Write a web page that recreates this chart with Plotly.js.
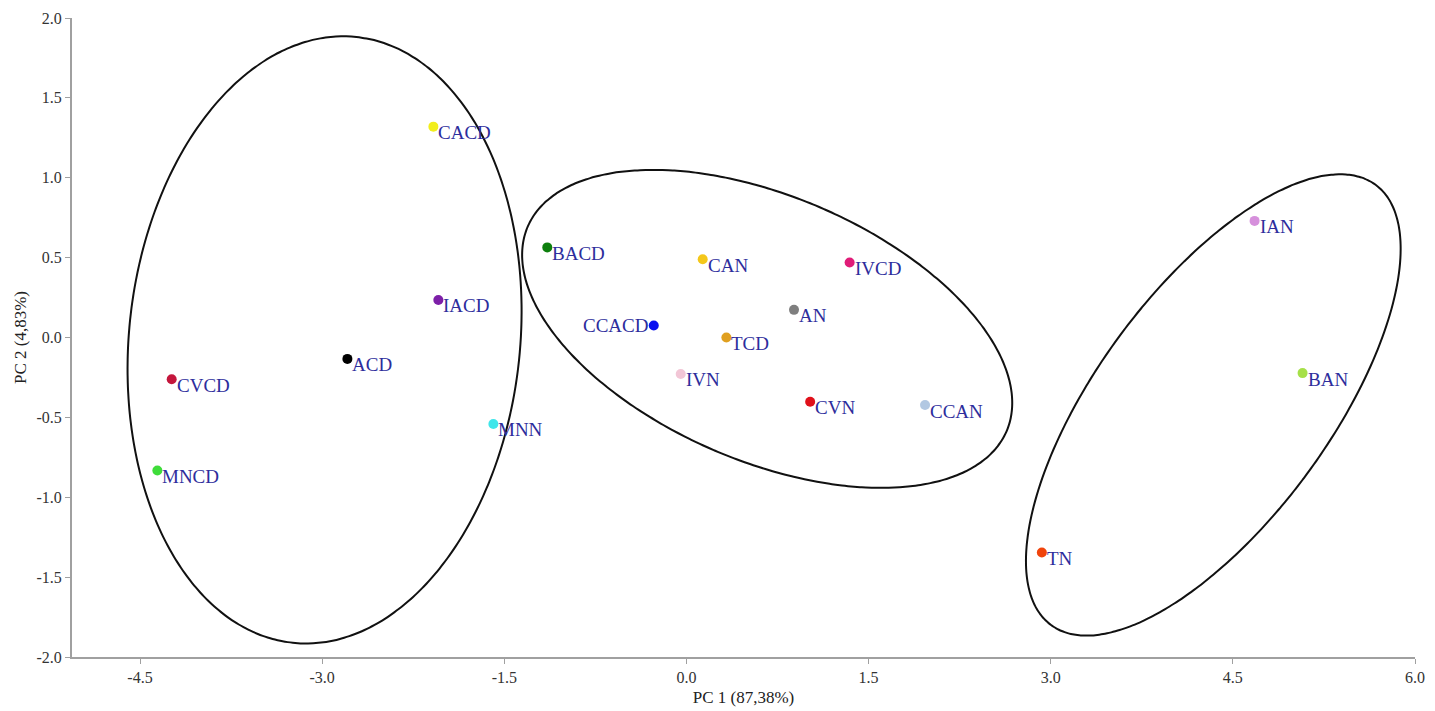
<!DOCTYPE html>
<html>
<head>
<meta charset="utf-8">
<script src="https://cdn.plot.ly/plotly-3.0.1.min.js"></script>
<style>
  html, body { margin: 0; padding: 0; background: #ffffff; }
  #chart { width: 1435px; height: 711px; }
</style>
</head>
<body>
<div id="chart"></div>
<script>
// ---- Data ----
var sampleNames = ["CACD", "IACD", "ACD", "CVCD", "MNCD", "MNN",
                   "BACD", "CCACD", "CAN", "IVCD", "AN", "TCD", "IVN", "CVN", "CCAN",
                   "IAN", "BAN", "TN"];
var pc1Values = [-2.084, -2.043, -2.792, -4.239, -4.357, -1.590,
                 -1.146, -0.269, 0.134, 1.344, 0.886, 0.329, -0.047, 1.019, 1.965,
                 4.679, 5.074, 2.927];
var pc2Values = [1.320, 0.235, -0.134, -0.261, -0.833, -0.541,
                 0.564, 0.075, 0.490, 0.469, 0.173, 0.000, -0.228, -0.402, -0.423,
                 0.730, -0.223, -1.346];
var pointColors = ["#f2ee1c", "#7d1fa8", "#000000", "#c4163c", "#3fdc3a", "#3fe6ea",
                   "#0d7f0d", "#0a10f0", "#f4c71a", "#e01c78", "#7f7f7f", "#e0a020", "#f2c6d6", "#e0101a", "#b2c8e2",
                   "#d690dc", "#a6e048", "#f0440c"];

// Group ellipses: centre (PC1, PC2), semi-axes (in PC1 units), rotation (deg)
var ellipseCx = [-2.980, 0.665, 4.339];
var ellipseCy = [-0.015, 0.054, -0.422];
var ellipseA = [2.508, 2.144, 2.252];
var ellipseB = [1.610, 1.091, 0.958];
var ellipseAngle = [84.0, -23.1, 53.6];

var xTickVals = [-4.5, -3.0, -1.5, 0.0, 1.5, 3.0, 4.5, 6.0];
var xTickText = ["-4.5", "-3.0", "-1.5", "0.0", "1.5", "3.0", "4.5", "6.0"];
var yTickVals = [-2.0, -1.5, -1.0, -0.5, 0.0, 0.5, 1.0, 1.5, 2.0];
var yTickText = ["-2.0", "-1.5", "-1.0", "-0.5", "0.0", "0.5", "1.0", "1.5", "2.0"];

var xTitle = "PC 1 (87,38%)";
var yTitle = "PC 2 (4,83%)";

// ---- Layout geometry ----
var W = 1435, H = 711;
var margin = {l: 72, r: 20, t: 18, b: 54};
var xRange = [-5.06, 6.0];
var yRange = [-2.0, 2.0];
var pxPerX = (W - margin.l - margin.r) / (xRange[1] - xRange[0]);
var pxPerY = (H - margin.t - margin.b) / (yRange[1] - yRange[0]);
var k = pxPerY / pxPerX;

var serif = "Liberation Serif, Times New Roman, serif";
var traces = [];

// Ellipses
for (var e = 0; e < ellipseCx.length; e++) {
  var ex = [], ey = [];
  var phi = ellipseAngle[e] * Math.PI / 180;
  for (var i = 0; i <= 240; i++) {
    var t = 2 * Math.PI * i / 240;
    var dx = ellipseA[e] * Math.cos(phi) * Math.cos(t) - ellipseB[e] * Math.sin(phi) * Math.sin(t);
    var dy = ellipseA[e] * Math.sin(phi) * Math.cos(t) + ellipseB[e] * Math.cos(phi) * Math.sin(t);
    ex.push(ellipseCx[e] + dx);
    ey.push(ellipseCy[e] + dy / k);
  }
  traces.push({
    type: "scatter", mode: "lines", x: ex, y: ey,
    line: {color: "#111111", width: 2, shape: "spline"},
    hoverinfo: "skip", showlegend: false
  });
}

// Points
traces.push({
  type: "scatter", mode: "markers",
  x: pc1Values, y: pc2Values, text: sampleNames,
  marker: {size: 10, color: pointColors},
  showlegend: false
});

// Labels
var annotations = [];
for (var j = 0; j < sampleNames.length; j++) {
  var leftSide = sampleNames[j] === "CCACD";
  annotations.push({
    x: pc1Values[j], y: pc2Values[j], xref: "x", yref: "y",
    text: sampleNames[j], showarrow: false,
    xanchor: leftSide ? "right" : "left", yanchor: "middle",
    xshift: leftSide ? -4 : 3, yshift: leftSide ? 0 : -6,
    font: {family: serif, size: 19, color: "#2d2d9c"}
  });
}

var layout = {
  width: W, height: H,
  margin: margin,
  paper_bgcolor: "#ffffff", plot_bgcolor: "#ffffff",
  showlegend: false,
  xaxis: {
    range: xRange, showgrid: false, zeroline: false,
    showline: true, linecolor: "#a0a0a0", linewidth: 2,
    ticks: "outside", ticklen: 5, tickcolor: "#a0a0a0", tickwidth: 1,
    tickvals: xTickVals, ticktext: xTickText,
    tickfont: {family: serif, size: 16, color: "#333333"},
    title: {text: xTitle, font: {family: serif, size: 17, color: "#222222"}, standoff: 6},
    automargin: false
  },
  yaxis: {
    range: yRange, showgrid: false, zeroline: false,
    showline: true, linecolor: "#a0a0a0", linewidth: 2,
    ticks: "outside", ticklen: 5, tickcolor: "#a0a0a0", tickwidth: 1,
    tickvals: yTickVals, ticktext: yTickText,
    tickfont: {family: serif, size: 16, color: "#333333"},
    title: {text: yTitle, font: {family: serif, size: 17, color: "#222222"}, standoff: 6},
    automargin: false
  },
  annotations: annotations
};

Plotly.newPlot("chart", traces, layout, {displayModeBar: false, staticPlot: true});
</script>
</body>
</html>
